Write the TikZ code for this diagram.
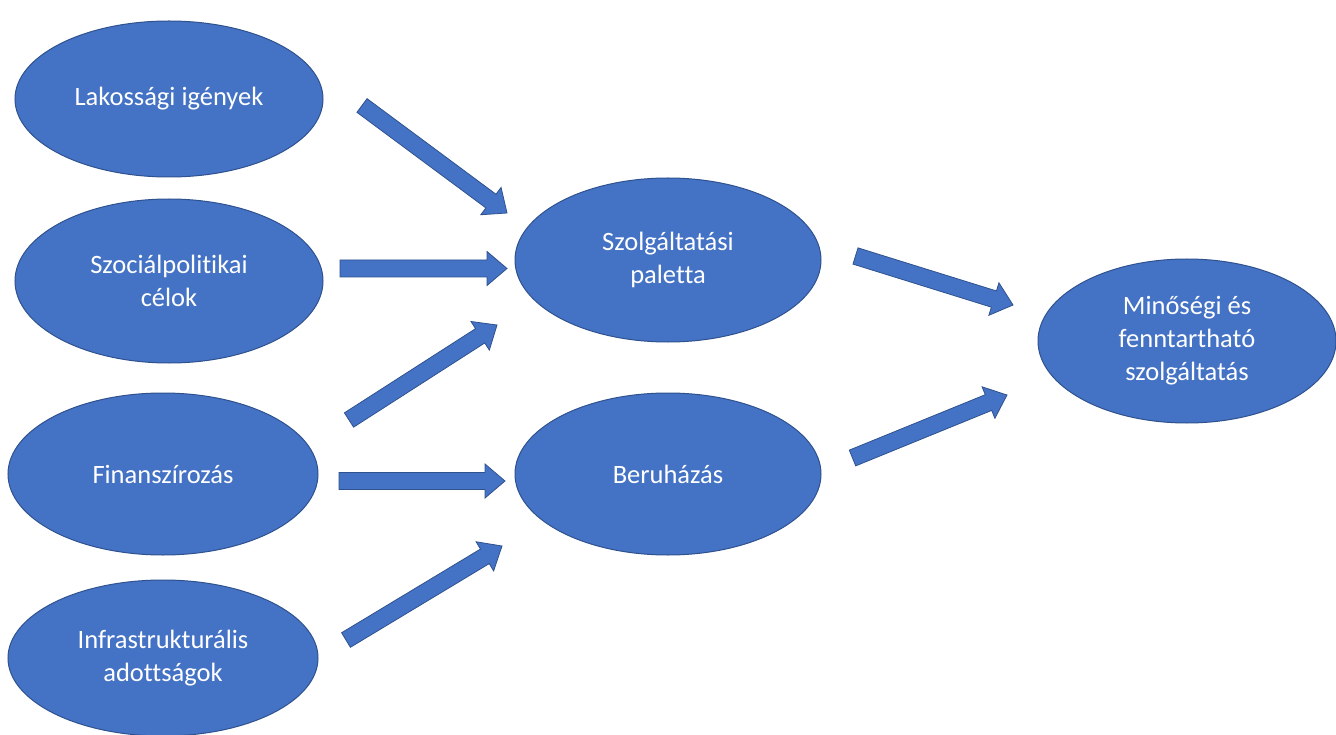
\documentclass[tikz,border=0pt]{standalone}
\usepackage{fontspec}
\setmainfont{Carlito}[Ligatures={NoCommon,NoContextual}]
\usetikzlibrary{shapes.geometric,calc}
\definecolor{fillblue}{HTML}{4472C4}
\definecolor{edgeblue}{HTML}{2F528F}
\tikzset{
  oval/.style={ellipse, fill=fillblue, draw=edgeblue, line width=1pt, inner sep=0pt,
    text=white, font=\fontsize{26.5}{33}\selectfont, align=center},
  blockarrow/.style={fill=fillblue, draw=edgeblue, line width=0.8pt, line join=miter},
}
\newcommand{\blockarr}[2]{%
  \coordinate (h#1#2) at ($(#2)!20pt!(#1)$);
  \filldraw[blockarrow] ($(#1)!8.5pt!90:(#2)$) -- ($(h#1#2)!8.5pt!90:(#2)$)
    -- ($(h#1#2)!17pt!90:(#2)$) -- (#2) -- ($(h#1#2)!17pt!-90:(#2)$)
    -- ($(h#1#2)!8.5pt!-90:(#2)$) -- ($(#1)!8.5pt!-90:(#2)$) -- cycle;
}
\begin{document}
\begin{tikzpicture}[x=1pt,y=-1pt]
\useasboundingbox[fill=white] (0,0) rectangle (1336,735);
% nodes
\node[oval, minimum width=308pt, minimum height=156pt] (lak) at (169,99) {Lakossági igények};
\node[oval, minimum width=308pt, minimum height=164pt] (szoc) at (169,281) {Szociálpolitikai\\célok};
\node[oval, minimum width=310pt, minimum height=162pt] (fin) at (163,474) {Finanszírozás};
\node[oval, minimum width=310pt, minimum height=156pt] (inf) at (163,658) {Infrastrukturális\\adottságok};
\node[oval, minimum width=306pt, minimum height=164pt] (szolg) at (668,260) {Szolgáltatási\\paletta};
\node[oval, minimum width=306pt, minimum height=162pt] (ber) at (668,474) {Beruházás};
\node[oval, minimum width=298pt, minimum height=164pt] (min) at (1187,341) {Minőségi és\\fenntartható\\szolgáltatás};
% arrow ends
\coordinate (ta) at (362,105.5);  \coordinate (pa) at (507,213);
\coordinate (tb) at (340,268.5);  \coordinate (pb) at (507,268.5);
\coordinate (tc) at (349,420);    \coordinate (pc) at (497,325);
\coordinate (td) at (339,481);    \coordinate (pd) at (505,481);
\coordinate (te) at (346,640);    \coordinate (pe) at (502,546);
\coordinate (tf) at (855.5,256);  \coordinate (pf) at (1013,305);
\coordinate (tg) at (852.5,458);  \coordinate (pg) at (1007,395);
\blockarr{ta}{pa}
\blockarr{tb}{pb}
\blockarr{tc}{pc}
\blockarr{td}{pd}
\blockarr{te}{pe}
\blockarr{tf}{pf}
\blockarr{tg}{pg}
\end{tikzpicture}
\end{document}
